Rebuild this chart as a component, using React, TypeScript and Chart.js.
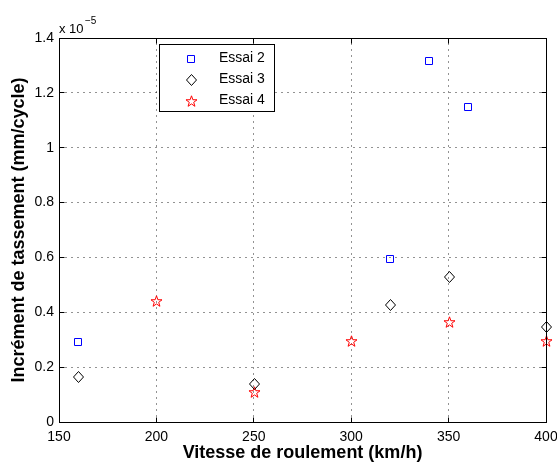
import React, { useEffect, useRef } from "react";
import { Chart, registerables } from "chart.js";

Chart.register(...registerables);

// ---- data ----
const xTicks = [150, 200, 250, 300, 350, 400];
const yTicks = [0, 0.2, 0.4, 0.6, 0.8, 1, 1.2, 1.4];
const essai2Speed = [160, 320, 340, 360];
const essai2Incr = [0.292, 0.596, 1.316, 1.15];
const essai3Speed = [160, 250, 320, 350, 400];
const essai3Incr = [0.165, 0.14, 0.425, 0.53, 0.347];
const essai4Speed = [200, 250, 300, 350, 400];
const essai4Incr = [0.44, 0.11, 0.297, 0.365, 0.295];
const seriesLabels = ["Essai 2", "Essai 3", "Essai 4"];
const xTitle = "Vitesse de roulement (km/h)";
const yTitle = "Incrément de tassement (mm/cycle)";
const yExponentBase = "x 10";
const yExponent = "\u22125";

const FONT = '"Liberation Sans", Arial, Helvetica, sans-serif';

type MarkerKind = "square" | "diamond" | "star";

function makeMarker(kind: MarkerKind, color: string): HTMLCanvasElement {
  const c = document.createElement("canvas");
  c.width = 14;
  c.height = 14;
  const g = c.getContext("2d")!;
  g.strokeStyle = color;
  g.lineWidth = 1;
  g.beginPath();
  if (kind === "square") {
    g.rect(3.5, 3.5, 7, 7);
  } else if (kind === "diamond") {
    g.moveTo(7.5, 1.5);
    g.lineTo(12.5, 7);
    g.lineTo(7.5, 12.5);
    g.lineTo(2.5, 7);
    g.closePath();
  } else {
    const R = 5.8;
    const r = R * 0.4;
    for (let i = 0; i < 10; i++) {
      const ang = -Math.PI / 2 + (i * Math.PI) / 5;
      const rad = i % 2 === 0 ? R : r;
      const px = 7.5 + rad * Math.cos(ang);
      const py = 7.6 + rad * Math.sin(ang);
      if (i === 0) g.moveTo(px, py);
      else g.lineTo(px, py);
    }
    g.closePath();
  }
  g.stroke();
  return c;
}

function pts(xs: number[], ys: number[]) {
  return xs.map((x, i) => ({ x, y: ys[i] }));
}

export default function App() {
  const ref = useRef<HTMLCanvasElement>(null);

  useEffect(() => {
    if (!ref.current) return;
    const markers = [
      makeMarker("square", "#0000ff"),
      makeMarker("diamond", "#000000"),
      makeMarker("star", "#ff0000"),
    ];
    const al = (v: number) => Math.floor(v) + 0.5;

    const decor = {
      id: "decor",
      beforeDatasetsDraw(chart: any) {
        const { ctx, chartArea: a, scales } = chart;
        const xs = scales.x;
        const ys = scales.y;
        // snap point elements (computed by the scales) to whole pixels
        chart.data.datasets.forEach((_d: any, i: number) => {
          const meta = chart.getDatasetMeta(i);
          meta.data.forEach((el: any) => {
            el.x = Math.round(el.x);
            el.y = Math.round(el.y);
          });
        });
        ctx.save();
        ctx.strokeStyle = "rgba(0,0,0,0.85)";
        ctx.lineWidth = 1;
        ctx.setLineDash([1, 5]);
        for (const v of xTicks) {
          const p = al(xs.getPixelForValue(v));
          if (p <= al(a.left) || p >= al(a.right)) continue;
          ctx.beginPath();
          ctx.moveTo(p, al(a.bottom));
          ctx.lineTo(p, al(a.top));
          ctx.stroke();
        }
        for (const v of yTicks) {
          const p = al(ys.getPixelForValue(v));
          if (p <= al(a.top) || p >= al(a.bottom)) continue;
          ctx.beginPath();
          ctx.moveTo(al(a.left), p);
          ctx.lineTo(al(a.right), p);
          ctx.stroke();
        }
        ctx.restore();
      },
      afterDatasetsDraw(chart: any) {
        const { ctx, chartArea: a, scales } = chart;
        const xs = scales.x;
        const ys = scales.y;
        const L = al(a.left), R = al(a.right), T = al(a.top), B = al(a.bottom);
        ctx.save();
        ctx.setLineDash([]);
        ctx.strokeStyle = "#000";
        ctx.lineWidth = 1;
        ctx.strokeRect(L, T, R - L, B - T);
        const tl = 5;
        ctx.beginPath();
        for (const v of xTicks) {
          const p = al(xs.getPixelForValue(v));
          ctx.moveTo(p, B);
          ctx.lineTo(p, B - tl);
          ctx.moveTo(p, T);
          ctx.lineTo(p, T + tl);
        }
        for (const v of yTicks) {
          const p = al(ys.getPixelForValue(v));
          ctx.moveTo(L, p);
          ctx.lineTo(L + tl, p);
          ctx.moveTo(R, p);
          ctx.lineTo(R - tl, p);
        }
        ctx.stroke();

        // legend
        const lx1 = al(159), lx2 = al(274), ly1 = al(44), ly2 = al(111);
        ctx.fillStyle = "#fff";
        ctx.fillRect(lx1, ly1, lx2 - lx1, ly2 - ly1);
        ctx.strokeRect(lx1, ly1, lx2 - lx1, ly2 - ly1);
        const rows = [58.5, 79.5, 100.5];
        ctx.font = `14px ${FONT}`;
        ctx.fillStyle = "#000";
        ctx.textAlign = "left";
        ctx.textBaseline = "middle";
        seriesLabels.forEach((lab, i) => {
          ctx.drawImage(markers[i], 191 - 7, Math.round(rows[i]) - 7);
          ctx.fillText(lab, 219, rows[i]);
        });

        // exponent
        ctx.textBaseline = "alphabetic";
        ctx.font = `13px ${FONT}`;
        ctx.fillText(yExponentBase, 59, 33);
        ctx.font = `10px ${FONT}`;
        ctx.fillText(yExponent, 85, 24);

        // axis titles
        ctx.font = `bold 18px ${FONT}`;
        ctx.textAlign = "center";
        ctx.textBaseline = "middle";
        ctx.fillText(xTitle, (a.left + a.right) / 2, 453);
        ctx.translate(19.5, (a.top + a.bottom) / 2);
        ctx.rotate(-Math.PI / 2);
        ctx.fillText(yTitle, 0, 0);
        ctx.restore();
      },
    };

    const zeroPad = (s: any) => {
      s.paddingLeft = 0;
      s.paddingRight = 0;
      s.paddingTop = 0;
      s.paddingBottom = 0;
    };

    const chart = new Chart(ref.current, {
      type: "scatter",
      data: {
        datasets: [
          { label: seriesLabels[0], data: pts(essai2Speed, essai2Incr), pointStyle: markers[0] as any, radius: 6, borderWidth: 0, clip: false as any },
          { label: seriesLabels[1], data: pts(essai3Speed, essai3Incr), pointStyle: markers[1] as any, radius: 6, borderWidth: 0, clip: false as any },
          { label: seriesLabels[2], data: pts(essai4Speed, essai4Incr), pointStyle: markers[2] as any, radius: 6, borderWidth: 0, clip: false as any },
        ],
      },
      options: {
        animation: false,
        responsive: false,
        events: [],
        layout: { padding: { top: 38, right: 11, left: 0, bottom: 0 } },
        plugins: { legend: { display: false }, tooltip: { enabled: false } },
        scales: {
          x: {
            type: "linear",
            min: 150,
            max: 400,
            afterBuildTicks: (s: any) => {
              s.ticks = xTicks.map((v) => ({ value: v }));
            },
            afterFit: (s: any) => {
              s.height = 42;
              zeroPad(s);
            },
            grid: { display: false, drawTicks: false },
            border: { display: false },
            ticks: {
              color: "#000",
              font: { family: FONT, size: 14 },
              padding: 7,
              maxRotation: 0,
              autoSkip: false,
              callback: (v: any) => String(v),
            },
          },
          y: {
            type: "linear",
            min: 0,
            max: 1.4,
            afterBuildTicks: (s: any) => {
              s.ticks = yTicks.map((v) => ({ value: v }));
            },
            afterFit: (s: any) => {
              s.width = 59;
              zeroPad(s);
            },
            grid: { display: false, drawTicks: false },
            border: { display: false },
            ticks: {
              color: "#000",
              font: { family: FONT, size: 14 },
              padding: 5,
              autoSkip: false,
              callback: (v: any) => String(Number(Number(v).toFixed(1))),
            },
          },
        },
      } as any,
      plugins: [decor],
    });
    return () => chart.destroy();
  }, []);

  return (
    <div style={{ position: "absolute", left: 0, top: 0, width: 557, height: 464, background: "#fff" }}>
      <canvas ref={ref} width={557} height={464} style={{ display: "block", width: 557, height: 464 }} />
    </div>
  );
}
